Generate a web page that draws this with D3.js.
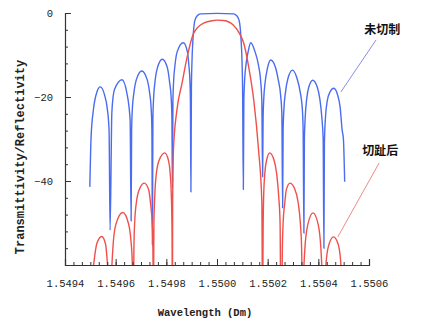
<!DOCTYPE html>
<html><head><meta charset="utf-8">
<script src="https://cdn.jsdelivr.net/npm/d3@7"></script>
<style>
html,body{margin:0;padding:0;background:#fff;}
svg{display:block;}
</style></head>
<body>
<script>
// ---- data ----
const xTicks = [1.5494, 1.5496, 1.5498, 1.5500, 1.5502, 1.5504, 1.5506];
const yTicks = [0, -20, -40];
const xTitle = "Wavelength (Dm)";
const yTitle = "Transmittivity/Reflectivity";
const labelUncut = "未切制";
const labelApod = "切趾后";

// uncut grating spectrum: [wavelength, dB]
const uncut = [
 [1.549498,-41.4],[1.549503,-29.5],[1.549512,-23.1],[1.549526,-18.8],[1.549539,-17.6],[1.549556,-19.5],[1.549566,-22.4],[1.549574,-27.9],[1.549578,-51.7],
 [1.549585,-23.6],[1.549595,-18.3],[1.549625,-15.9],[1.549644,-19.0],[1.549657,-25.4],[1.549661,-49.5],
 [1.549663,-27.8],[1.549666,-22.6],[1.549672,-19.0],[1.549682,-15.8],[1.549703,-13.8],[1.549724,-15.8],[1.549734,-19.0],[1.549740,-22.6],[1.549743,-27.8],[1.549745,-55.2],
 [1.549747,-25.0],[1.549750,-20.0],[1.549755,-16.5],[1.549765,-13.0],[1.549784,-11.0],[1.549804,-13.0],[1.549813,-16.5],[1.549819,-20.0],[1.549822,-25.0],[1.549824,-41.5],
 [1.549826,-21.0],[1.549829,-16.0],[1.549834,-12.5],[1.549843,-9.2],[1.549867,-7.1],[1.549883,-9.2],[1.549889,-12.5],[1.549893,-16.0],[1.549895,-21.0],[1.549897,-42.6],
 [1.549899,-18.0],[1.549901,-12.0],[1.549905,-6.4],[1.549913,-1.7],[1.549923,-0.6],[1.549935,-0.2],[1.550000,-0.1],[1.550065,-0.2],[1.550077,-0.6],[1.550087,-1.7],[1.550095,-6.4],[1.550099,-12.0],[1.550101,-18.0],[1.550104,-42.0],
 [1.550106,-21.0],[1.550109,-16.0],[1.550114,-12.5],[1.550123,-9.2],[1.550133,-7.1],[1.550150,-9.2],[1.550164,-12.5],[1.550172,-16.0],[1.550177,-21.0],[1.550180,-39.0],
 [1.550182,-25.0],[1.550185,-20.0],[1.550190,-16.5],[1.550199,-13.2],[1.550212,-11.2],[1.550230,-12.8],[1.550242,-16.0],[1.550251,-19.5],[1.550256,-24.0],[1.550259,-46.4],
 [1.550261,-28.0],[1.550264,-23.0],[1.550270,-19.0],[1.550280,-15.6],[1.550298,-13.6],[1.550316,-15.6],[1.550329,-19.0],[1.550337,-23.0],[1.550340,-28.0],[1.550343,-52.4],
 [1.550345,-30.0],[1.550348,-25.0],[1.550354,-20.5],[1.550363,-17.5],[1.550378,-16.0],[1.550395,-17.5],[1.550406,-20.5],[1.550414,-25.0],[1.550419,-30.0],[1.550422,-56.0],
 [1.550424,-31.0],[1.550428,-25.0],[1.550435,-21.0],[1.550446,-18.8],[1.550461,-17.9],[1.550476,-19.5],[1.550486,-22.4],[1.550494,-27.9],[1.550499,-30.0],[1.550504,-40.2]
];

// apodized grating spectrum: [wavelength, dB]
const apodized = [
 [1.549503,-72],[1.549510,-62],[1.549516,-58.5],[1.549526,-54.8],[1.549545,-53.2],[1.549560,-55],[1.549568,-60],[1.549575,-66],[1.549580,-72],
 [1.549584,-62],[1.549589,-56],[1.549600,-50.5],[1.549628,-47.5],[1.549650,-50],[1.549660,-54],[1.549666,-60],[1.549670,-72],
 [1.549672,-56],[1.549675,-50],[1.549682,-45],[1.549695,-41.8],[1.549713,-40.5],[1.549730,-42],[1.549738,-45.5],[1.549744,-50],[1.549747,-56],[1.549749,-72],
 [1.549751,-50],[1.549754,-44],[1.549760,-38.5],[1.549772,-35],[1.549794,-33.3],[1.549808,-35],[1.549815,-38],[1.549820,-44],[1.5498225,-52],[1.549824,-72],
 [1.549825,-45],[1.549828,-32.6],[1.549842,-23],[1.549862,-16.7],[1.549882,-10.5],[1.549908,-4.8],[1.549947,-2.4],[1.549986,-1.8],[1.550000,-1.7],
 [1.550026,-1.8],[1.550065,-2.9],[1.550085,-4.5],[1.550105,-7.1],[1.550125,-12.8],[1.550145,-20.7],[1.550164,-32.6],[1.550177,-45],[1.550180,-72],
 [1.550182,-52],[1.550184,-44],[1.550189,-38],[1.550196,-35],[1.550208,-33.3],[1.550225,-35],[1.550236,-38.5],[1.550244,-44],[1.550249,-50],[1.550252,-72],
 [1.550255,-72],[1.550258,-56],[1.550261,-50],[1.550267,-45.5],[1.550274,-42],[1.550288,-40.5],[1.550306,-41.8],[1.550320,-45],[1.550329,-50],[1.550334,-56],[1.550338,-72],
 [1.550342,-62],[1.550347,-56],[1.550358,-50.5],[1.550379,-47.6],[1.550400,-50.5],[1.550410,-56],[1.550415,-62],[1.550420,-72],
 [1.550425,-66],[1.550430,-60],[1.550440,-55.5],[1.550460,-53.3],[1.550478,-55],[1.550488,-59],[1.550492,-64],[1.550497,-72]
];

// annotation anchors [wavelength, dB]
const uncutLeader = [[1.550489,-18.8],[1.550628,-6.4]];
const uncutLabelPos = [1.550652,-3.8];
const apodLeader = [[1.550477,-53.3],[1.550640,-35.7]];
const apodLabelPos = [1.550644,-32.6];

// ---- drawing ----
const W = 435, H = 326;
const svg = d3.select("body").append("svg").attr("width", W).attr("height", H);

const x = d3.scaleLinear().domain([1.5494, 1.5506]).range([65, 369]);
const y = d3.scaleLinear().domain([-60, 0]).range([265, 13]);

const mono = "'Liberation Mono', 'DejaVu Sans Mono', monospace";
const axisColor = "#333";

svg.append("defs").append("clipPath").attr("id", "plot")
  .append("rect").attr("x", 65).attr("y", 0).attr("width", 304).attr("height", 265);

const line = d3.line().x(d => x(d[0])).y(d => y(d[1])).curve(d3.curveMonotoneX);

const g = svg.append("g").attr("clip-path", "url(#plot)");
g.append("path").datum(uncut).attr("d", line)
  .attr("fill", "none").attr("stroke", "#4a6cf0").attr("stroke-width", 1.4);
g.append("path").datum(apodized).attr("d", line)
  .attr("fill", "none").attr("stroke", "#f0504c").attr("stroke-width", 1.4);

// minor ticks
const xMinor = d3.range(0, 37).map(i => 1.5494 + i * 0.0002 / 6);
const yMinor = d3.range(0, 16).map(i => -60 + i * 4);

const xmin = svg.append("g").attr("transform", "translate(0,265)")
  .call(d3.axisBottom(x).tickValues(xMinor).tickSize(-3).tickFormat(""));
xmin.select(".domain").remove();
xmin.selectAll("line").attr("stroke", axisColor);

const ymin = svg.append("g").attr("transform", "translate(65,0)")
  .call(d3.axisLeft(y).tickValues(yMinor).tickSize(-3).tickFormat(""));
ymin.select(".domain").remove();
ymin.selectAll("line").attr("stroke", axisColor);

const xa = svg.append("g").attr("transform", "translate(0,265)")
  .call(d3.axisBottom(x).tickValues(xTicks).tickSize(-6).tickPadding(15).tickFormat(d3.format(".4f")));
xa.select(".domain").attr("stroke", axisColor).attr("stroke-width", 1.2);
xa.selectAll("line").attr("stroke", axisColor);
xa.selectAll("text").attr("font-family", mono).attr("font-size", 10.5).attr("fill", "#222");

const ya = svg.append("g").attr("transform", "translate(65,0)")
  .call(d3.axisLeft(y).tickValues(yTicks).tickSize(-6).tickPadding(12));
ya.select(".domain").attr("stroke", axisColor).attr("stroke-width", 1.2);
ya.selectAll("line").attr("stroke", axisColor);
ya.selectAll("text").attr("font-family", mono).attr("font-size", 10.5).attr("fill", "#222");

svg.append("text").attr("x", 205).attr("y", 316).attr("text-anchor", "middle")
  .attr("font-family", mono).attr("font-size", 10.5).attr("font-weight", "bold").attr("fill", "#222")
  .text(xTitle);

svg.append("text").attr("transform", "translate(24,157) rotate(-90)").attr("text-anchor", "middle")
  .attr("font-family", mono).attr("font-size", 12).attr("font-weight", "bold").attr("fill", "#222")
  .text(yTitle);

// annotations
svg.append("line")
  .attr("x1", x(uncutLeader[0][0])).attr("y1", y(uncutLeader[0][1]))
  .attr("x2", x(uncutLeader[1][0])).attr("y2", y(uncutLeader[1][1]))
  .attr("stroke", "#8a8ee6").attr("stroke-width", 1);
svg.append("line")
  .attr("x1", x(apodLeader[0][0])).attr("y1", y(apodLeader[0][1]))
  .attr("x2", x(apodLeader[1][0])).attr("y2", y(apodLeader[1][1]))
  .attr("stroke", "#f08a86").attr("stroke-width", 1);

const cjk = "'Noto Sans CJK SC', sans-serif";
svg.append("text").attr("x", x(uncutLabelPos[0])).attr("y", y(uncutLabelPos[1]))
  .attr("text-anchor", "middle").attr("dominant-baseline", "central")
  .attr("font-family", cjk).attr("font-size", 12).attr("font-weight", "bold").attr("fill", "#111")
  .text(labelUncut);
svg.append("text").attr("x", x(apodLabelPos[0])).attr("y", y(apodLabelPos[1]))
  .attr("text-anchor", "middle").attr("dominant-baseline", "central")
  .attr("font-family", cjk).attr("font-size", 12).attr("font-weight", "bold").attr("fill", "#111")
  .text(labelApod);
</script>
</body></html>
